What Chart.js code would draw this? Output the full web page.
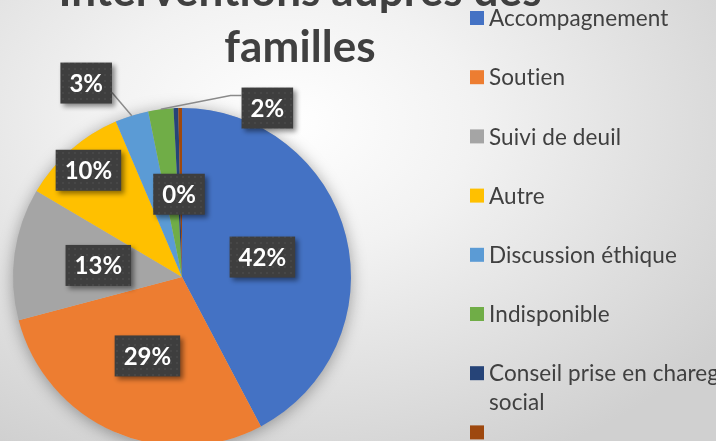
<!DOCTYPE html>
<html>
<head>
<meta charset="utf-8">
<script src="https://cdn.jsdelivr.net/npm/chart.js@4.4.1/dist/chart.umd.min.js"></script>
<style>
    html, body { margin: 0; padding: 0; overflow: hidden; }
    #wrap {
        position: relative;
        width: 716px;
        height: 441px;
        overflow: hidden;
        background: radial-gradient(ellipse 75% 85% at 40% 28%, #ffffff 0%, #f2f2f2 35%, #d0d0d0 100%);
    }
    #pieChart { position: absolute; left: 0; top: 0; }
</style>
</head>
<body>
<div id="wrap"><canvas id="pieChart" width="716" height="460"></canvas></div>
<script>
// Chart data
const titleLines = ['Interventions auprès des', 'familles'];
const categories = [
    'Accompagnement',
    'Soutien',
    'Suivi de deuil',
    'Autre',
    'Discussion éthique',
    'Indisponible',
    ['Conseil prise en chareg', 'social'],
    ''
];
const shares = [42.24, 28.6, 12.6, 10.1, 3.2, 2.4, 0.45, 0.35];
const sliceColors = ['#4472C4', '#ED7D31', '#A5A5A5', '#FFC000', '#5B9BD5', '#70AD47', '#264478', '#9E480E'];

// where each % box sits: radius factor, angle shift (deg) from slice middle, leader style
const labelSpots = [
    { r: 0.49 },
    { r: 0.51 },
    { r: 0.50 },
    { r: 0.84 },
    { r: 1.28, turn: -9, leader: 'corner' },
    { r: 1.12, turn: 34, leader: 'elbow' },
    { r: 0.49 },
    null
];

const textGrey = '#404040';
const total = shares.reduce((a, b) => a + b, 0);

// dotted dark texture for the label boxes
const tex = document.createElement('canvas');
tex.width = 6; tex.height = 6;
const tctx = tex.getContext('2d');
tctx.fillStyle = '#3e3e3e';
tctx.fillRect(0, 0, 6, 6);
tctx.fillStyle = '#474747';
tctx.fillRect(2, 2, 2, 2);

const pieShadow = {
    id: 'pieShadow',
    beforeDatasetsDraw(chart) {
        const arc = chart.getDatasetMeta(0).data[0];
        if (!arc) return;
        const ctx = chart.ctx;
        ctx.save();
        ctx.shadowColor = 'rgba(0,0,0,0.35)';
        ctx.shadowBlur = 16;
        ctx.shadowOffsetY = 2;
        ctx.fillStyle = '#bbbbbb';
        ctx.beginPath();
        ctx.arc(arc.x, arc.y, arc.outerRadius, 0, Math.PI * 2);
        ctx.fill();
        ctx.restore();
    }
};

const percentBoxes = {
    id: 'percentBoxes',
    afterDatasetsDraw(chart) {
        const ctx = chart.ctx;
        const arcs = chart.getDatasetMeta(0).data;
        ctx.save();
        ctx.font = 'bold 24px Lato';
        arcs.forEach((arc, i) => {
            const spot = labelSpots[i];
            if (!spot) return;
            const mid = (arc.startAngle + arc.endAngle) / 2;
            const ang = mid + (spot.turn || 0) * Math.PI / 180;
            const R = arc.outerRadius;
            const cx = arc.x + Math.cos(ang) * R * spot.r;
            const cy = arc.y + Math.sin(ang) * R * spot.r;
            const text = Math.round(shares[i] / total * 100) + '%';
            const w = ctx.measureText(text).width + 18;
            const h = 41;
            const left = cx - w / 2, top = cy - h / 2;

            // leader lines
            if (spot.leader) {
                const ex = arc.x + Math.cos(mid) * R;
                const ey = arc.y + Math.sin(mid) * R;
                ctx.strokeStyle = '#8a8a8a';
                ctx.lineWidth = 1.5;
                ctx.beginPath();
                if (spot.leader === 'corner') {
                    ctx.moveTo(left + w, top + h - 11);
                    ctx.lineTo(ex, ey);
                } else {
                    ctx.moveTo(ex, ey);
                    ctx.lineTo(left - 11, top + 8);
                    ctx.lineTo(left, top + 8);
                }
                ctx.stroke();
            }

            ctx.save();
            ctx.shadowColor = 'rgba(0,0,0,0.45)';
            ctx.shadowBlur = 5;
            ctx.shadowOffsetX = 3;
            ctx.shadowOffsetY = 3;
            ctx.fillStyle = ctx.createPattern(tex, 'repeat');
            ctx.fillRect(left, top, w, h);
            ctx.restore();

            ctx.fillStyle = '#ffffff';
            ctx.textAlign = 'center';
            ctx.textBaseline = 'middle';
            ctx.fillText(text, cx, cy + 1);
        });
        ctx.restore();
    }
};

const titleAndLegend = {
    id: 'titleAndLegend',
    afterDraw(chart) {
        const ctx = chart.ctx;
        ctx.save();
        ctx.letterSpacing = '0.1px'; // keeps Lato from joining "ti"
        // title
        ctx.fillStyle = textGrey;
        ctx.font = 'bold 44px Lato';
        ctx.textAlign = 'center';
        ctx.textBaseline = 'alphabetic';
        titleLines.forEach((line, k) => ctx.fillText(line, 300, 6 + k * 56));

        // legend
        ctx.font = '22.5px Lato';
        ctx.textAlign = 'left';
        ctx.textBaseline = 'middle';
        categories.forEach((label, i) => {
            const y = 18 + i * 59.2;
            ctx.fillStyle = sliceColors[i];
            ctx.fillRect(470, y - 7, 14, 14);
            ctx.fillStyle = textGrey;
            const lines = Array.isArray(label) ? label : [label];
            lines.forEach((l, k) => ctx.fillText(l, 489, y + 1 + k * 29));
        });
        ctx.restore();
    }
};

const ctxPie = document.getElementById('pieChart').getContext('2d');
new Chart(ctxPie, {
    type: 'pie',
    data: {
        labels: categories,
        datasets: [{
            data: shares,
            backgroundColor: sliceColors,
            borderWidth: 0
        }]
    },
    options: {
        responsive: false,
        animation: false,
        events: [],
        layout: {
            padding: { left: 13, top: 108, right: 365, bottom: 14 }
        },
        plugins: {
            legend: { display: false },
            title: { display: false },
            tooltip: { enabled: false }
        }
    },
    plugins: [pieShadow, percentBoxes, titleAndLegend]
});
</script>
</body>
</html>
